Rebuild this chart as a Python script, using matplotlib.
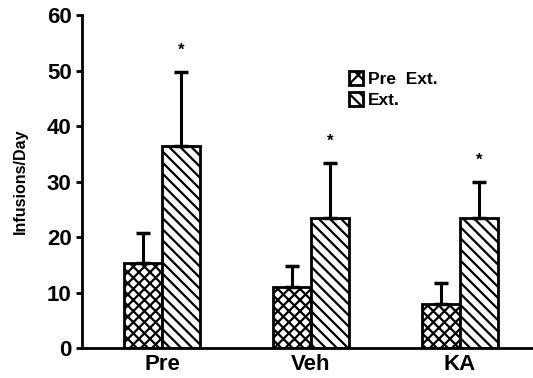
import numpy as np
import matplotlib.pyplot as plt
from matplotlib.patches import Patch

plt.rcParams['font.family'] = ['Liberation Sans', 'DejaVu Sans']
plt.rcParams['font.weight'] = 'bold'
plt.rcParams['hatch.linewidth'] = 1.6

# data
groups = ["Pre", "Veh", "KA"]
pre_ext = [15.3, 11.0, 7.9]
pre_ext_err = [5.4, 3.8, 3.8]
ext = [36.4, 23.4, 23.4]
ext_err = [13.3, 9.9, 6.6]
series_names = ["Pre  Ext.", "Ext."]

x = np.arange(len(groups))
w = 0.255

fig = plt.figure(figsize=(5.33, 3.78), dpi=100)
ax = fig.add_axes([0.154, 0.079, 0.846, 0.881])

ax.bar(x - w / 2, pre_ext, w, color="white", edgecolor="black",
       linewidth=2, hatch="xxx")
ax.bar(x + w / 2, ext, w, color="white", edgecolor="black",
       linewidth=2, hatch="\\\\\\")

ax.errorbar(x - w / 2, pre_ext, yerr=[np.zeros(3), pre_ext_err], fmt="none",
            ecolor="black", elinewidth=2.2, capsize=5, capthick=2.5)
ax.errorbar(x + w / 2, ext, yerr=[np.zeros(3), ext_err], fmt="none",
            ecolor="black", elinewidth=2.2, capsize=5, capthick=2.5)

# significance stars
for xi, v, e in zip(x, ext, ext_err):
    ax.text(xi + w / 2, v + e + 3.9, "*", ha="center", va="center",
            fontsize=12, fontweight="bold")

ax.set_xlim(-0.537, 2.49)
ax.set_ylim(0, 60)
ax.set_yticks([0, 10, 20, 30, 40, 50, 60])
ax.set_xticks(x)
ax.set_xticklabels(groups, fontsize=16, fontweight="bold")
ax.tick_params(axis="y", labelsize=16, direction="out", length=4, width=2)
ax.tick_params(axis="x", length=0, pad=4)
ax.set_ylabel("Infusions/Day", fontsize=11.5, fontweight="bold", labelpad=14)

for s in ["top", "right"]:
    ax.spines[s].set_visible(False)
ax.spines["left"].set_linewidth(2)
ax.spines["bottom"].set_linewidth(2)

handles = [Patch(facecolor="white", edgecolor="black", hatch="xx", linewidth=2),
           Patch(facecolor="white", edgecolor="black", hatch="\\\\\\", linewidth=2)]
leg = ax.legend(handles, series_names, loc="upper left", bbox_to_anchor=(0.572, 0.857),
                frameon=False, prop={"size": 12.5, "weight": "bold"},
                handlelength=0.8, handleheight=0.8,
                handletextpad=0.3, labelspacing=0.3, borderpad=0)

fig.savefig("out.png", dpi=100)
